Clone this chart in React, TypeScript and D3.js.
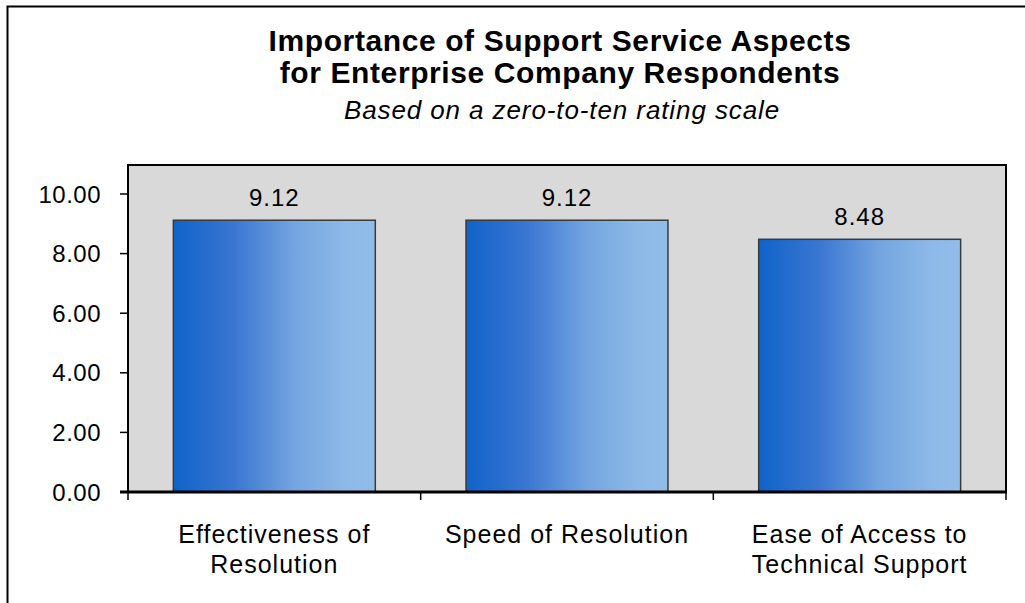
import React from "react";
import * as d3 from "d3";

const categories: string[][] = [
  ["Effectiveness of", "Resolution"],
  ["Speed of Resolution"],
  ["Ease of Access to", "Technical Support"],
];
const values: number[] = [9.12, 9.12, 8.48];
const yTicks: number[] = [0, 2, 4, 6, 8, 10];
const titleLines: string[] = [
  "Importance of Support Service Aspects",
  "for Enterprise Company Respondents",
];
const subtitle = "Based on a zero-to-ten rating scale";

const W = 1025;
const H = 603;
const plot = { left: 128, right: 1006, top: 165, bottom: 492 };
const FONT = "'Liberation Sans', Arial, Helvetica, sans-serif";

export default function App() {
  const keys = categories.map((_, i) => String(i));
  const x = d3
    .scaleBand<string>()
    .domain(keys)
    .range([plot.left, plot.right])
    .padding(0);
  const y = d3.scaleLinear().domain([0, 10]).range([plot.bottom, plot.top + 29]);
  const bw = x.bandwidth() * 0.69;
  const boundaries = [...keys.map((k) => x(k) as number), plot.right];

  return (
    <div style={{ position: "absolute", left: 0, top: 0 }}>
      <svg width={W} height={H} style={{ display: "block", fontFamily: FONT }}>
        <defs>
          <linearGradient id="barGrad" x1="0" x2="1" y1="0" y2="0">
            <stop offset="0" stopColor="#0f63c9" />
            <stop offset="0.3" stopColor="#3a76d2" />
            <stop offset="0.6" stopColor="#74a5e0" />
            <stop offset="0.85" stopColor="#8cb9e7" />
            <stop offset="1" stopColor="#92bde9" />
          </linearGradient>
        </defs>
        <rect x={0} y={0} width={W} height={H} fill="#ffffff" />
        {/* outer frame */}
        <rect x={7.5} y={6.5} width={W + 50} height={H + 50} fill="none" stroke="#000" strokeWidth={2} />

        {/* titles */}
        {titleLines.map((t, i) => (
          <text
            key={i}
            x={560}
            y={51 + i * 32}
            textAnchor="middle"
            fontSize={30}
            fontWeight="bold"
            letterSpacing={0.6}
            fill="#000"
          >
            {t}
          </text>
        ))}
        <text x={562} y={119} textAnchor="middle" fontSize={26} fontStyle="italic" letterSpacing={0.9} fill="#000">
          {subtitle}
        </text>

        {/* plot area */}
        <rect
          x={plot.left}
          y={plot.top}
          width={plot.right - plot.left}
          height={plot.bottom - plot.top}
          fill="#d9d9d9"
          stroke="#000"
          strokeWidth={2}
        />

        {/* bars */}
        {values.map((v, i) => {
          const k = keys[i];
          const cx = (x(k) as number) + x.bandwidth() / 2;
          return (
            <g key={k}>
              <rect
                x={cx - bw / 2}
                y={y(v)}
                width={bw}
                height={y(0) - y(v)}
                fill="url(#barGrad)"
                stroke="#3a3a3a"
                strokeWidth={1.5}
              />
              <text x={cx} y={y(v) - 14} textAnchor="middle" fontSize={24} letterSpacing={1} fill="#000">
                {v.toFixed(2)}
              </text>
            </g>
          );
        })}

        {/* y axis */}
        <line x1={plot.left} x2={plot.left} y1={plot.top} y2={plot.bottom} stroke="#000" strokeWidth={2} />
        {yTicks.map((t) => (
          <g key={t}>
            <line x1={plot.left - 8} x2={plot.left} y1={y(t)} y2={y(t)} stroke="#000" strokeWidth={1.5} />
            <text
              x={101}
              y={y(t)}
              dy="0.36em"
              textAnchor="end"
              fontSize={24}
              letterSpacing={0.5}
              fill="#000"
            >
              {t.toFixed(2)}
            </text>
          </g>
        ))}

        {/* x axis */}
        <line x1={plot.left - 8} x2={plot.right + 1} y1={plot.bottom} y2={plot.bottom} stroke="#000" strokeWidth={3} />
        {boundaries.map((b, i) => (
          <line key={i} x1={b} x2={b} y1={plot.bottom} y2={plot.bottom + 8} stroke="#000" strokeWidth={1.5} />
        ))}
        {categories.map((lines, i) => {
          const cx = (x(keys[i]) as number) + x.bandwidth() / 2;
          return (
            <text key={i} textAnchor="middle" fontSize={25} letterSpacing={1} fill="#000">
              {lines.map((l, j) => (
                <tspan key={j} x={cx} y={543 + j * 30}>
                  {l}
                </tspan>
              ))}
            </text>
          );
        })}
      </svg>
    </div>
  );
}
